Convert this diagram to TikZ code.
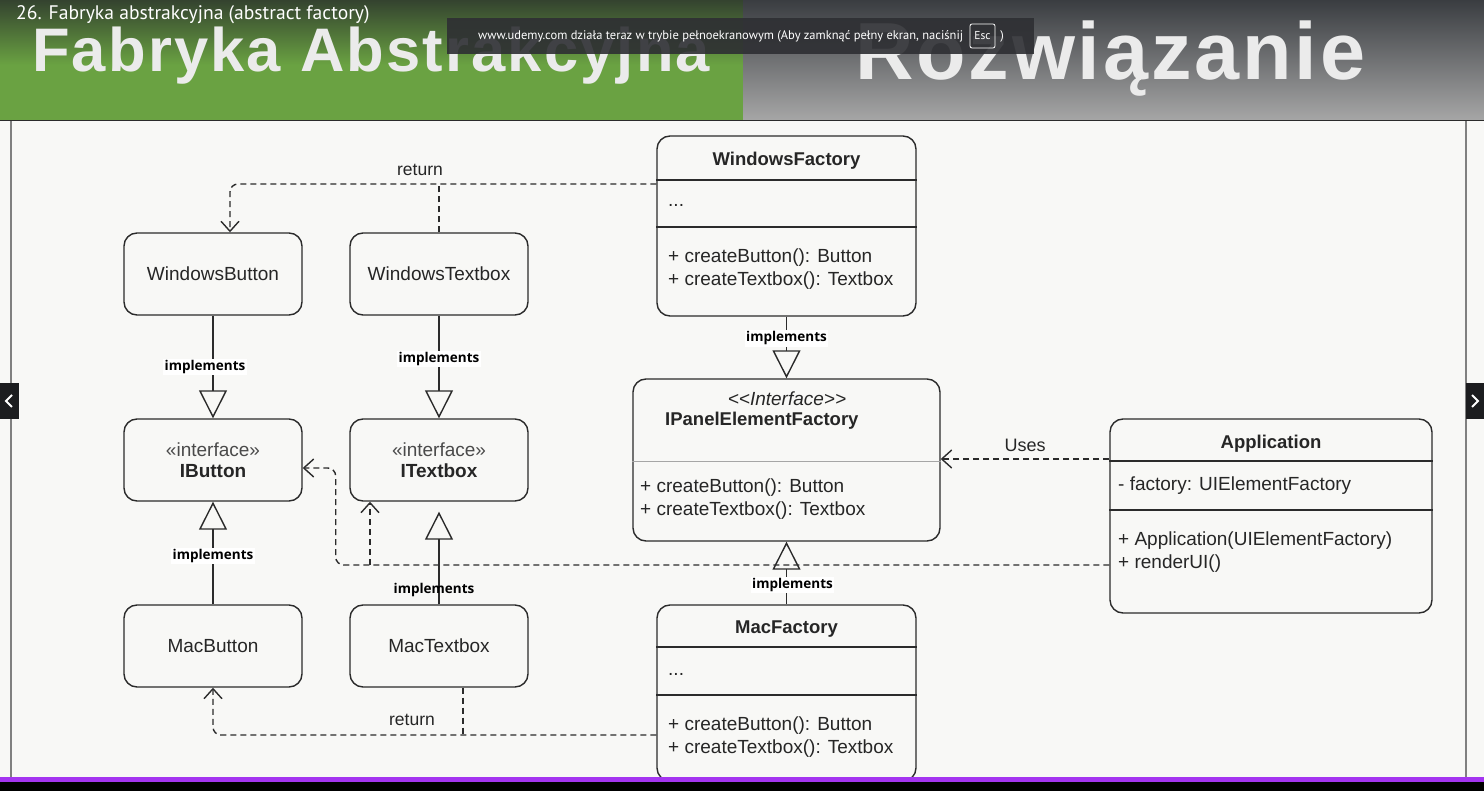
\documentclass[tikz,border=0pt]{standalone}
\usepackage{fontspec}
\setmainfont{Liberation Sans}
\newfontfamily\lblfont{Open Sans}
\newfontfamily\capfont{PT Sans}
\newfontfamily\bigfont[LetterSpace=3.5]{Liberation Sans}
\usepackage{tikz}
\usetikzlibrary{positioning}
\usetikzlibrary{shapes,arrows,arrows.meta,fit}
\definecolor{panelbg}{HTML}{F8F8F6}
\definecolor{lineclr}{HTML}{2B2B2B}
\definecolor{textclr}{HTML}{262626}
\definecolor{stereo}{HTML}{4A4A4A}
\definecolor{grnTop}{HTML}{34432F}
\definecolor{grnBot}{HTML}{6AA242}
\definecolor{gryTop}{HTML}{3A3D41}
\definecolor{gryBot}{HTML}{A7A7A7}
\definecolor{overlayclr}{HTML}{2E2F33}
\definecolor{udemy}{HTML}{A435F0}
\definecolor{navclr}{HTML}{1C1D1F}
\tikzstyle{box} = [rectangle, rounded corners=13pt, draw=lineclr, line width=1.4pt, fill=panelbg, minimum width=178pt, minimum height=82pt, inner sep=0pt, text=textclr, align=center, font=\fontsize{19}{21}\selectfont]
\tikzstyle{cls} = [box, minimum width=259pt]
\tikzstyle{txt} = [inner sep=0pt, yshift=-2.5pt, text=textclr, font=\fontsize{19}{21}\selectfont]
\tikzstyle{ttl} = [inner sep=0pt, yshift=-2.5pt, text=textclr, font=\fontsize{18.5}{21}\selectfont\bfseries]
\tikzstyle{sep} = [draw=lineclr, line width=1.4pt]
\tikzstyle{thinsep} = [draw=gray!70, line width=1pt]
\tikzstyle{impl} = [draw=lineclr, line width=1.4pt, -{Triangle[open, length=28pt, width=28pt]}]
\tikzstyle{dep} = [draw=lineclr, line width=1.4pt, dash pattern=on 6pt off 4pt, -{Straight Barb[length=10pt, width=18pt]}]
\tikzstyle{lbl} = [fill=white, inner sep=1.5pt, text=black, font=\lblfont\fontsize{13.5}{15}\selectfont\bfseries]
\tikzstyle{rettxt} = [inner sep=0pt, text=textclr, font=\fontsize{17.5}{20}\selectfont]

\begin{document}
\begin{tikzpicture}[x=1pt, y=-1pt, node distance=46.6pt]
			\useasboundingbox (0,0) rectangle (1484,791);
			% Header of the video
			\shade[top color=grnTop, bottom color=grnBot] (0,0) rectangle (743,65);
			\fill[grnBot] (0,65) rectangle (743,121);
			\shade[top color=gryTop, bottom color=gryBot] (743,0) rectangle (1484,121);
			\node[anchor=base west, inner sep=0pt, text=white!92!black, font=\bigfont\fontsize{61.5}{62}\selectfont\bfseries] (hdrleft) at (32,72) {Fabryka Abstrakcyjna};
			\node[anchor=base west, inner sep=0pt, text=white!92!black, font=\bigfont\fontsize{81}{82}\selectfont\bfseries] (hdrright) at (855,80) {Rozwiązanie};
			\node[anchor=west, inner sep=0pt, text=white, font=\capfont\fontsize{19.6}{22}\selectfont] (caption) at (16,15) {26. Fabryka abstrakcyjna (abstract factory)};
			\fill[overlayclr, opacity=.9] (447,18) rectangle (1034,54);
			\node[anchor=west, inner sep=0pt, text=white, font=\capfont\fontsize{12.5}{14}\selectfont] (fsnote) at (478,36) {www.udemy.com działa teraz w trybie pełnoekranowym (Aby zamknąć pełny ekran, naciśnij};
			\node[draw=white, rounded corners=2pt, line width=.8pt, minimum width=25pt, minimum height=24pt, inner sep=0pt, text=white, font=\capfont\fontsize{11.5}{13}\selectfont] (esc) at (982.5,36) {Esc};
			\node[inner sep=0pt, text=white, font=\capfont\fontsize{12.5}{14}\selectfont] (escclose) at (1002,36) {)};
			% Slide
			\fill[panelbg] (0,121) rectangle (1484,791);
			\draw[lineclr, line width=1pt] (0,121) -- (1484,121);
			\draw[gray, line width=1.5pt] (11,121) -- (11,778);
			\draw[gray, line width=1.5pt] (1466,121) -- (1466,778);
			\fill[navclr] (0,383) rectangle (19,419);
			\draw[white, line width=2pt] (12,395) -- (6,401) -- (12,407);
			\fill[navclr] (1466,383) rectangle (1484,419);
			\draw[white, line width=2pt] (1472,395) -- (1478,401) -- (1472,407);
			% Place nodes
			\node [box] (wbtn) at (213,274) {WindowsButton};
			\node [box, right=of wbtn] (wtxt) {WindowsTextbox};
			\node [box, below=102.6pt of wbtn] (ibtn) {{\color{stereo}«interface»}\\\textbf{IButton}};
			\node [box, right=of ibtn] (itb) {{\color{stereo}«interface»}\\\textbf{ITextbox}};
			\node [box, below=102.6pt of ibtn] (mbtn) {MacButton};
			\node [box, right=of mbtn] (mtxt) {MacTextbox};
			% WindowsFactory
			\node [cls, minimum height=180pt] (wfac) at (786.5,226) {};
			\node [ttl] (wfacname) at (786.5,158) {WindowsFactory};
			\path [sep] (wfac.west |- 0,180) -- (wfac.east |- 0,180);
			\node [txt, anchor=west] (wfacattr) at (668,203) {...};
			\path [sep] (wfac.west |- 0,227) -- (wfac.east |- 0,227);
			\node [txt, anchor=west] (wfacm1) at (668,255) {+ createButton(): Button};
			\node [txt, anchor=west] (wfacm2) at (668,278) {+ createTextbox(): Textbox};
			% IPanelElementFactory
			\node [box, minimum width=307pt, minimum height=162pt] (ipf) at (786.5,460) {};
			\node [txt, font=\fontsize{19}{21}\selectfont\itshape] (ipfstereo) at (787,396) {{<}{<}Interface{>}{>}};
			\node [ttl, anchor=west] (ipfname) at (665,418) {IPanelElementFactory};
			\path [thinsep] (ipf.west |- 0,462) -- (ipf.east |- 0,462);
			\node [txt, anchor=west] (ipfm1) at (640,485) {+ createButton(): Button};
			\node [txt, anchor=west] (ipfm2) at (640,508) {+ createTextbox(): Textbox};
			% Application
			\node [box, minimum width=322pt, minimum height=194pt] (app) at (1271,516) {};
			\node [ttl] (appname) at (1271,441) {Application};
			\path [sep] (app.west |- 0,461) -- (app.east |- 0,461);
			\node [txt, anchor=west] (appattr) at (1118,483) {- factory: UIElementFactory};
			\path [sep] (app.west |- 0,510) -- (app.east |- 0,510);
			\node [txt, anchor=west] (appm1) at (1118,538) {+ Application(UIElementFactory)};
			\node [txt, anchor=west] (appm2) at (1118,561) {+ renderUI()};
			% MacFactory
			\node [cls, minimum height=176pt] (mfac) at (786.5,693) {};
			\node [ttl] (mfacname) at (786.5,627) {MacFactory};
			\path [sep] (mfac.west |- 0,647) -- (mfac.east |- 0,647);
			\node [txt, anchor=west] (mfacattr) at (668,672) {...};
			\path [sep] (mfac.west |- 0,695) -- (mfac.east |- 0,695);
			\node [txt, anchor=west] (mfacm1) at (668,723) {+ createButton(): Button};
			\node [txt, anchor=west] (mfacm2) at (668,746) {+ createTextbox(): Textbox};
			% Draw edges
			\path [impl] (wbtn.south) -- node [lbl, pos=.5, xshift=-8pt] {implements} (ibtn.north);
			\path [impl] (wtxt.south) -- node [lbl, pos=.42] {implements} (itb.north);
			\path [impl] (mbtn.north) -- node [lbl, pos=.47] {implements} (ibtn.south);
			\path [impl, shorten >=10pt] (mtxt.north) -- node [lbl, fill=none, pos=.14, xshift=-5pt] {implements} (itb.south);
			\path [impl] (wfac.south) -- node [lbl, pos=.35] {implements} (ipf.north);
			\path [impl] (mfac.north) -- node [lbl, pos=.31, xshift=6pt] {implements} (ipf.south);
			% Uses
			\coordinate (appuse) at ([yshift=57pt]app.west);
			\path [dep] (appuse) -- node [rettxt, font=\fontsize{18}{20}\selectfont, above=7pt] (uses) {Uses} (ipf.east |- appuse);
			\coordinate (appout) at ([yshift=-49pt]app.west);
			\coordinate (itbin) at ([xshift=-69pt]itb.south);
			\path [dep, rounded corners=8pt] (appout) -| ([xshift=33pt, yshift=-8pt]ibtn.east) -- ([yshift=-8pt]ibtn.east);
			\path [dep] (itbin |- appout) -- (itbin);
			% return
			\coordinate (wret) at ([yshift=42pt]wfac.west);
			\path [dep, rounded corners=8pt] (wret) -| ([xshift=17pt]wbtn.north);
			\path [dep, -] (wtxt.north) -- (wtxt.north |- wret);
			\node [rettxt] (ret1) at (420,170) {return};
			\coordinate (mret) at ([yshift=-42pt]mfac.west);
			\coordinate (mtxtout) at ([xshift=24pt]mtxt.south);
			\path [dep, rounded corners=8pt] (mret) -| (mbtn.south);
			\path [dep, -] (mtxtout) -- (mtxtout |- mret);
			\node [rettxt] (ret2) at (412,720) {return};
			% progress bar
			\fill[udemy] (0,777) rectangle (1484,782);
			\fill[black] (0,782) rectangle (1484,791);
			\end{tikzpicture}
\end{document}
